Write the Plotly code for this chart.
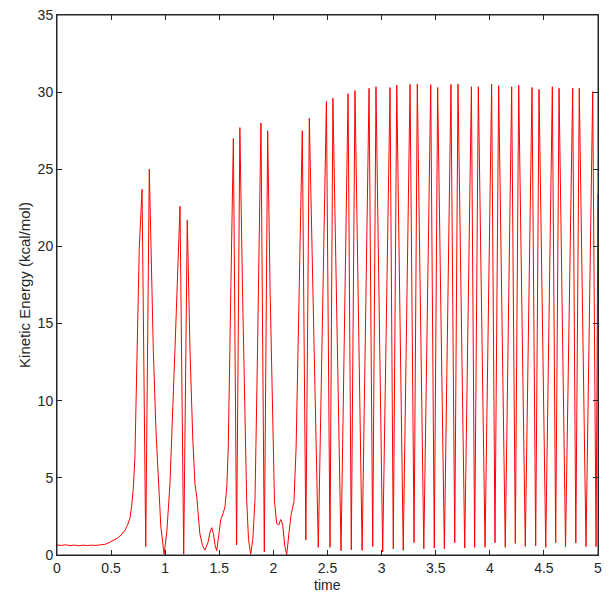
import plotly.graph_objects as go

# time samples and kinetic energy
time = [
    0.00, 0.04, 0.08, 0.12, 0.16, 0.20, 0.24, 0.28, 0.32, 0.36, 0.40, 0.44,
    0.48, 0.52, 0.56, 0.60, 0.63, 0.655, 0.675, 0.69, 0.705, 0.72, 0.742,
    0.76, 0.786, 0.82, 0.853, 0.89, 0.915, 0.937, 0.96, 0.99, 1.015, 1.044,
    1.07, 1.09, 1.137, 1.171, 1.204, 1.229, 1.255, 1.275, 1.291, 1.32, 1.345,
    1.368, 1.395, 1.415, 1.43, 1.445, 1.462, 1.476, 1.49, 1.513, 1.535, 1.553,
    1.57, 1.583, 1.608, 1.63, 1.66, 1.69, 1.715, 1.737, 1.753, 1.77, 1.79,
    1.81, 1.83, 1.851, 1.885, 1.916, 1.947, 1.97, 1.993, 2.01, 2.03, 2.05,
    2.067, 2.085, 2.105, 2.123, 2.145, 2.163, 2.19, 2.21, 2.235, 2.267, 2.30,
    2.332, 2.415, 2.49, 2.523, 2.55, 2.625, 2.69, 2.72, 2.754, 2.82, 2.884,
    2.918, 2.948, 3.01, 3.078, 3.108, 3.14, 3.20, 3.263, 3.30, 3.33, 3.39,
    3.454, 3.487, 3.518, 3.58, 3.641, 3.676, 3.706, 3.768, 3.83, 3.86, 3.894,
    3.956, 4.017, 4.048, 4.082, 4.143, 4.202, 4.236, 4.267, 4.328, 4.39,
    4.424, 4.455, 4.517, 4.578, 4.609, 4.64, 4.70, 4.766, 4.795, 4.827,
    4.889, 4.951, 4.982, 5.00,
]
kinetic = [
    0.65, 0.62, 0.66, 0.61, 0.64, 0.60, 0.64, 0.61, 0.64, 0.62, 0.66, 0.68,
    0.80, 0.93, 1.10, 1.35, 1.62, 2.0, 2.4, 3.2, 4.3, 6.3, 13.3,
    19.8, 23.7, 0.55, 25.0, 13.3, 8.0, 4.6, 1.8, 0.05, 1.5, 4.6,
    9.0, 13.3, 22.6, 0.05, 21.7, 13.3, 7.5, 4.6, 3.8, 1.4, 0.6,
    0.32, 0.8, 1.5, 1.77, 1.4, 0.6, 0.28, 1.0, 2.27, 2.7, 3.13,
    4.5, 7.0, 17.8, 27.0, 0.65, 27.7, 17.0, 7.9, 3.6, 1.0, 0.05,
    1.0, 3.6, 12.2, 28.0, 0.2, 27.5, 17.0, 7.9, 3.5, 2.05, 1.95,
    2.3, 2.0, 0.6, 0.02, 1.5, 2.6, 3.45, 7.0, 16.0, 27.5, 0.97,
    28.3, 0.5, 29.4, 0.5, 29.6, 0.28, 29.9, 0.33, 30.1, 0.3, 30.25,
    0.54, 30.35, 0.2, 30.3, 0.4, 30.46, 0.3, 30.5, 0.8, 30.52, 0.4,
    30.48, 0.45, 30.3, 0.4, 30.5, 0.8, 30.52, 0.45, 30.35, 0.5, 30.35,
    0.5, 30.52, 0.8, 30.42, 0.5, 30.35, 0.75, 30.45, 0.55, 30.3,
    0.6, 30.18, 0.5, 30.35, 0.8, 30.25, 0.54, 30.25, 0.78, 30.25,
    0.54, 30.03, 0.54, 23.4,
]

x_ticks = [0, 0.5, 1, 1.5, 2, 2.5, 3, 3.5, 4, 4.5, 5]
x_labels = ["0", "0.5", "1", "1.5", "2", "2.5", "3", "3.5", "4", "4.5", "5"]
y_ticks = [0, 5, 10, 15, 20, 25, 30, 35]

fig = go.Figure()
fig.add_trace(go.Scatter(
    x=time,
    y=kinetic,
    mode="lines",
    line=dict(color="#ff0000", width=1),
    showlegend=False,
    cliponaxis=False,
))

eje = dict(
    showline=True,
    linecolor="#262626",
    linewidth=1,
    mirror="ticks",
    ticks="inside",
    ticklen=5,
    tickcolor="#262626",
    showgrid=False,
    zeroline=False,
    ticklabeloverflow="allow",
    tickfont=dict(family="Liberation Sans", size=14, color="#262626"),
)

# la página deja 8 px de margen en el body: se descuentan aquí
fig.update_layout(
    width=614,
    height=594,
    margin=dict(l=49, r=24, t=7, b=47),
    paper_bgcolor="white",
    plot_bgcolor="white",
    font=dict(family="Liberation Sans", size=14, color="#262626"),
    xaxis=dict(
        eje,
        range=[0, 5],
        tickvals=x_ticks,
        ticktext=x_labels,
        ticklabelstandoff=0,
        automargin=False,
    ),
    yaxis=dict(
        eje,
        range=[0, 35],
        tickvals=y_ticks,
        title=dict(text="Kinetic Energy (kcal/mol)", standoff=3, font=dict(size=15)),
        automargin=False,
    ),
)

# etiqueta del eje x como anotación para que no quede cortada
fig.add_annotation(
    text="time", xref="paper", yref="paper",
    x=0.5, y=0, xanchor="center", yanchor="top",
    yshift=-21, showarrow=False, borderpad=0,
    font=dict(family="Liberation Sans", size=14, color="#262626"),
)

# marco completo estilo MATLAB
fig.add_shape(
    type="rect", xref="paper", yref="paper",
    x0=0, y0=0, x1=1, y1=1,
    line=dict(color="#262626", width=1),
    layer="above",
)

fig.write_html("out.html")
